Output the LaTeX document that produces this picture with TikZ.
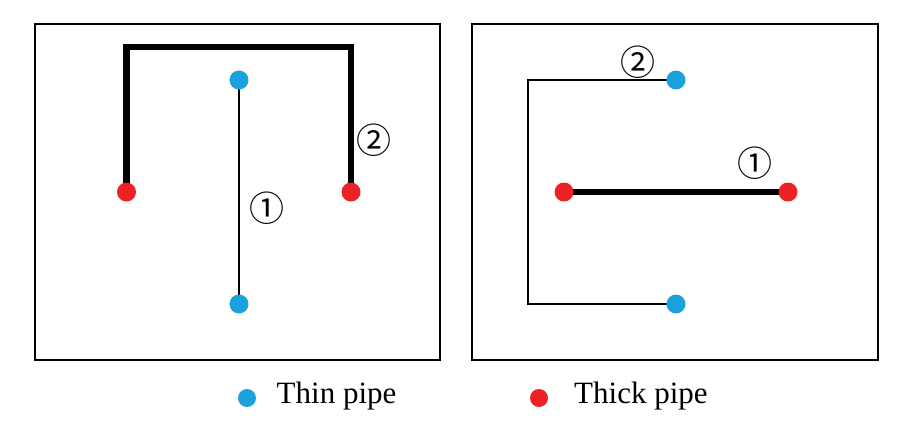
\documentclass[tikz,border=0pt]{standalone}
\usepackage{fontspec}
\setmainfont{Liberation Serif}
\newfontfamily\circfont{Noto Sans CJK SC}
\definecolor{pipeblue}{RGB}{29,161,221}
\definecolor{pipered}{RGB}{236,34,39}
\begin{document}
\begin{tikzpicture}[x=1pt,y=-1pt,
  frame/.style={draw=black,line width=2pt},
  thickpipe/.style={line width=6.5pt,line join=miter},
  thinpipe/.style={line width=1.8pt,line join=miter},
  bdot/.style={circle,fill=pipeblue,inner sep=0pt,minimum size=19pt},
  rdot/.style={circle,fill=pipered,inner sep=0pt,minimum size=19pt},
  num/.style={font=\circfont\fontsize{35}{35}\selectfont,inner sep=0pt},
  legend/.style={font=\fontsize{31}{31}\selectfont,anchor=base west,inner sep=0pt}]
\useasboundingbox (0,0) rectangle (905,426);
\fill[white] (0,0) rectangle (905,426);
% frames
\draw[frame] (35,24) rectangle (440,360);
\draw[frame] (472,24) rectangle (878,360);
% left panel
\coordinate (lr1) at (126.5,192);
\coordinate (lr2) at (351,192);
\coordinate (lc1) at (126.5,47);
\coordinate (lc2) at (351,47);
\coordinate (lb1) at (239,80);
\coordinate (lb2) at (239,304);
\draw[thickpipe] (lr1) -- (lc1) -- (lc2) -- (lr2);
\draw[thinpipe] (lb1) -- (lb2);
\node[rdot] (L1) at (lr1) {};
\node[rdot] (L2) at (lr2) {};
\node[bdot] (L3) at (lb1) {};
\node[bdot] (L4) at (lb2) {};
\node[num] (n1) at (267,208) {①};
\node[num] (n2) at (374,140) {②};
% right panel
\coordinate (rb1) at (676,80);
\coordinate (rb2) at (676,304);
\coordinate (rc1) at (528,80);
\coordinate (rc2) at (528,304);
\coordinate (rr1) at (564,192);
\coordinate (rr2) at (788,192);
\draw[thinpipe] (rb1) -- (rc1) -- (rc2) -- (rb2);
\draw[thickpipe] (rr1) -- (rr2);
\node[bdot] (R1) at (rb1) {};
\node[bdot] (R2) at (rb2) {};
\node[rdot] (R3) at (rr1) {};
\node[rdot] (R4) at (rr2) {};
\node[num] (n3) at (755,163) {①};
\node[num] (n4) at (638,62) {②};
% legend
\node[bdot,minimum size=18pt] (lgb) at (247,398) {};
\node[legend] (lgbt) at (276.5,403) {Thin pipe};
\node[rdot,minimum size=18pt] (lgr) at (539,398) {};
\node[legend] (lgrt) at (574,403) {Thick pipe};
\end{tikzpicture}
\end{document}
